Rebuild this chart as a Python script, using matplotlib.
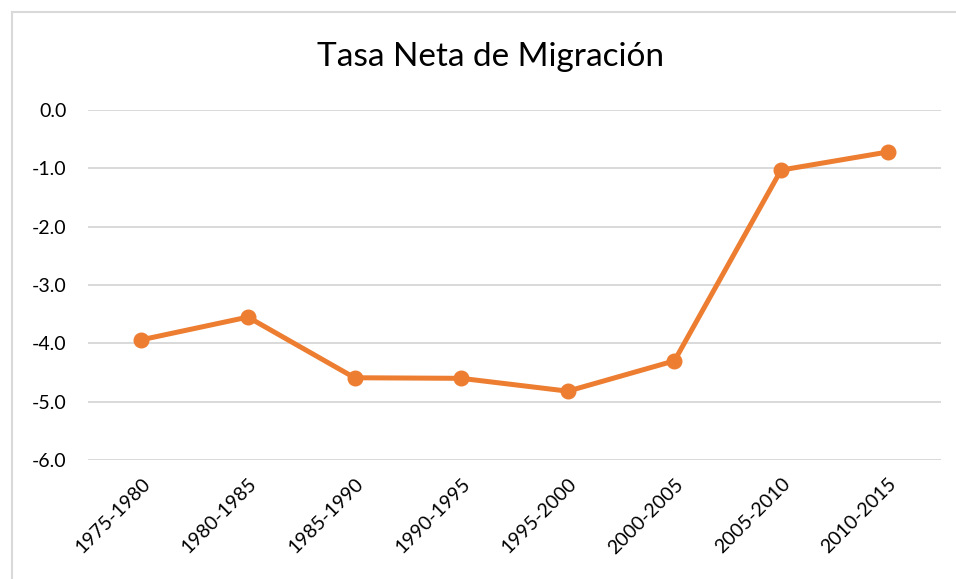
import matplotlib.pyplot as plt
from matplotlib.lines import Line2D

periodos = ["1975-1980", "1980-1985", "1985-1990", "1990-1995",
            "1995-2000", "2000-2005", "2005-2010", "2010-2015"]
tasa = [-3.94, -3.55, -4.59, -4.60, -4.82, -4.30, -1.03, -0.72]
yticks = [0.0, -1.0, -2.0, -3.0, -4.0, -5.0, -6.0]

plt.rcParams['font.family'] = ['Lato', 'DejaVu Sans']

fig = plt.figure(figsize=(9.56, 5.79), dpi=100)
ax = fig.add_axes([88 / 956, 1 - 460 / 579, (941 - 88) / 956, 350 / 579])

x = range(len(periodos))
ax.plot(x, tasa, color="#ED7D31", linewidth=3.6, marker="o", markersize=10.5,
        solid_capstyle="round", zorder=3)

ax.set_xlim(-0.5, len(periodos) - 0.5)
ax.set_ylim(-6, 0)
ax.set_yticks(yticks)
ax.set_yticklabels(["%.1f" % v for v in yticks], fontsize=14)
ax.set_xticks(list(x))
ax.set_xticklabels(periodos, rotation=45, ha="right", rotation_mode="anchor", fontsize=14)
ax.tick_params(axis="y", length=0, pad=15.5)
ax.tick_params(axis="x", length=0, pad=11)
ax.grid(True, axis="y", color="#D9D9D9", linewidth=1.4)
ax.set_axisbelow(True)
for s in ax.spines.values():
    s.set_visible(False)

fig.text(491 / 956, 1 - 57 / 579, "Tasa Neta de Migración", fontsize=24,
         ha="center", va="center")

# chart border (left and top edges visible)
fig.add_artist(Line2D([12 / 956, 12 / 956], [0, 1 - 12 / 579], color="#D9D9D9", linewidth=1.5))
fig.add_artist(Line2D([12 / 956, 1], [1 - 12 / 579, 1 - 12 / 579], color="#D9D9D9", linewidth=1.5))

fig.savefig("out.png", dpi=100)
